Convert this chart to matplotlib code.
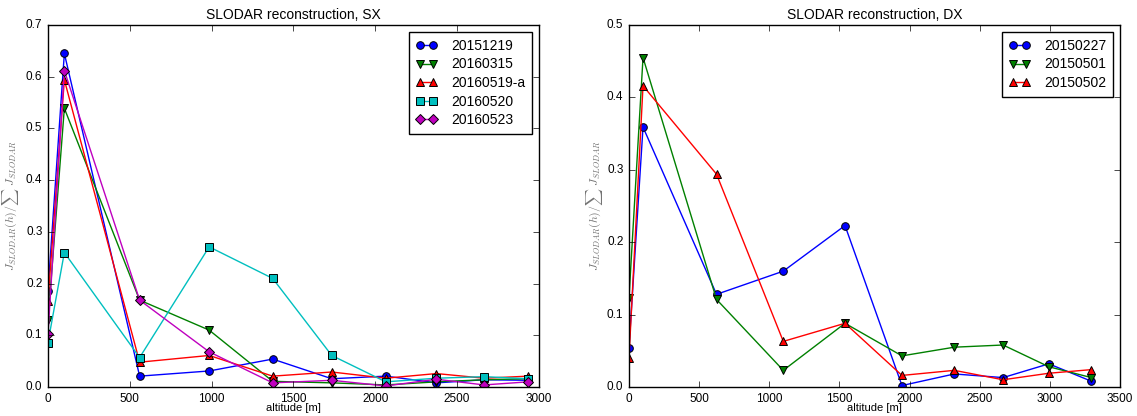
import matplotlib
matplotlib.use("Agg")
import matplotlib.pyplot as plt

# ---- data: left panel (SX) ----
alt_sx = [0, 100, 560, 985, 1373, 1734, 2064, 2374, 2665, 2934]
sx_labels = ["20151219", "20160315", "20160519-a", "20160520", "20160523"]
sx_20151219 = [0.186, 0.645, 0.021, 0.031, 0.054, 0.016, 0.021, 0.008, 0.014, 0.013]
sx_20160315 = [0.129, 0.539, 0.168, 0.110, 0.011, 0.008, 0.004, 0.010, 0.014, 0.016]
sx_20160519a = [0.167, 0.594, 0.048, 0.061, 0.021, 0.029, 0.017, 0.026, 0.017, 0.021]
sx_20160520 = [0.086, 0.260, 0.057, 0.271, 0.210, 0.061, 0.010, 0.017, 0.020, 0.016]
sx_20160523 = [0.102, 0.612, 0.168, 0.068, 0.008, 0.013, 0.002, 0.015, 0.004, 0.010]

# ---- data: right panel (DX) ----
alt_dx = [0, 100, 624, 1100, 1540, 1946, 2319, 2667, 2993, 3296]
dx_labels = ["20150227", "20150501", "20150502"]
dx_20150227 = [0.054, 0.359, 0.128, 0.160, 0.223, 0.002, 0.018, 0.013, 0.032, 0.008]
dx_20150501 = [0.123, 0.455, 0.121, 0.023, 0.088, 0.043, 0.055, 0.058, 0.028, 0.013]
dx_20150502 = [0.040, 0.416, 0.294, 0.063, 0.088, 0.016, 0.023, 0.010, 0.019, 0.024]

plt.style.use("classic")
plt.rcParams["font.family"] = ["Liberation Sans", "DejaVu Sans"]
plt.rcParams["mathtext.fontset"] = "cm"
plt.rcParams["figure.facecolor"] = "white"
plt.rcParams["savefig.facecolor"] = "white"

fig = plt.figure(figsize=(11.37, 4.16), dpi=100)
ax1 = fig.add_axes([0.0422, 0.0697, 0.4318, 0.8702])
ax2 = fig.add_axes([0.5532, 0.0697, 0.4318, 0.8702])

colors = ["b", "g", "r", "c", "m"]
markers = ["o", "v", "^", "s", "D"]
msizes = [5.5, 6, 6, 5.5, 5]

sx_series = [sx_20151219, sx_20160315, sx_20160519a, sx_20160520, sx_20160523]
for vals, lab, c, m, ms in zip(sx_series, sx_labels, colors, markers, msizes):
    ax1.plot(alt_sx, vals, color=c, marker=m, markersize=ms, lw=1,
             markeredgecolor="k", markeredgewidth=0.7, label=lab)

dx_series = [dx_20150227, dx_20150501, dx_20150502]
for vals, lab, c, m, ms in zip(dx_series, dx_labels, colors, markers, msizes):
    ax2.plot(alt_dx, vals, color=c, marker=m, markersize=ms, lw=1,
             markeredgecolor="k", markeredgewidth=0.7, label=lab)

ax1.set_xlim(0, 3000)
ax1.set_ylim(0, 0.7)
ax2.set_xlim(0, 3500)
ax2.set_ylim(0, 0.5)

ylab = r"$J_{SLODAR}(h)/\sum\ J_{SLODAR}$"
for ax, title, ylx in [(ax1, "SLODAR reconstruction, SX", -0.054),
                       (ax2, "SLODAR reconstruction, DX", -0.048)]:
    ax.set_title(title, fontsize=10, pad=4)
    ax.set_xlabel("altitude [m]", fontsize=8)
    ax.xaxis.set_label_coords(0.5, -0.044)
    ax.set_ylabel(ylab, fontsize=8.5, color="0.45")
    ax.yaxis.set_label_coords(ylx, 0.5)
    ax.tick_params(labelsize=8.5, direction="in", length=4, pad=4)
    for sp in ax.spines.values():
        sp.set_linewidth(1)
        sp.set_color("k")
    leg = ax.legend(loc="upper right", numpoints=2, fontsize=10,
                    frameon=True, fancybox=False, borderaxespad=0.5,
                    handlelength=1.5, handletextpad=1.0,
                    labelspacing=0.33, borderpad=0.5)
    leg.get_frame().set_edgecolor("k")
    leg.get_frame().set_linewidth(1)

fig.savefig("out.png", dpi=100)
